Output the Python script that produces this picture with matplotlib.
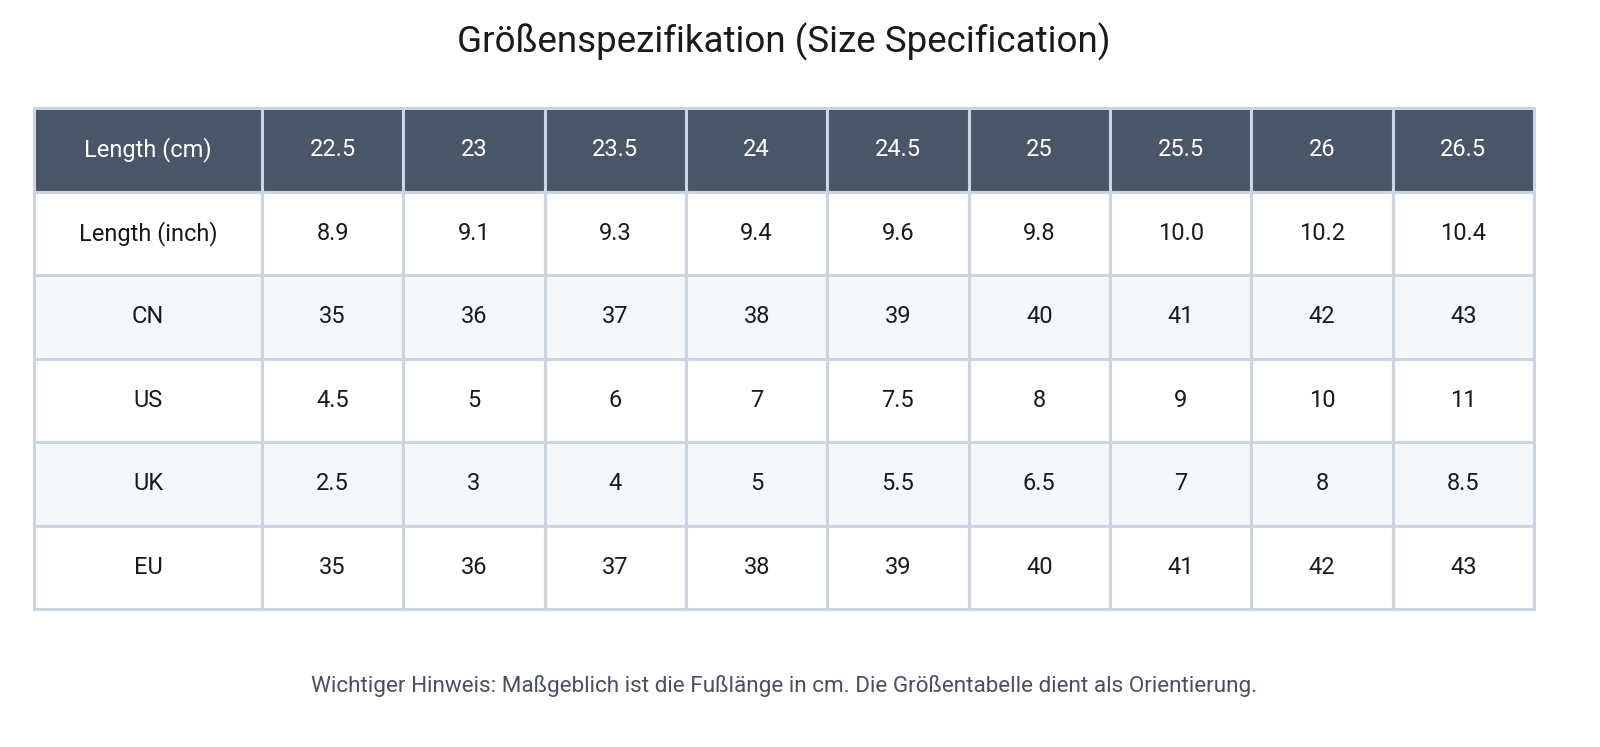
import matplotlib.pyplot as plt
from matplotlib.patches import Rectangle

plt.rcParams['font.family'] = ['Roboto', 'DejaVu Sans']

title = 'Größenspezifikation (Size Specification)'
note = 'Wichtiger Hinweis: Maßgeblich ist die Fußlänge in cm. Die Größentabelle dient als Orientierung.'

header = ['Length (cm)', '22.5', '23', '23.5', '24', '24.5', '25', '25.5', '26', '26.5']
row_labels = ['Length (inch)', 'CN', 'US', 'UK', 'EU']
inch = ['8.9', '9.1', '9.3', '9.4', '9.6', '9.8', '10.0', '10.2', '10.4']
cn = ['35', '36', '37', '38', '39', '40', '41', '42', '43']
us = ['4.5', '5', '6', '7', '7.5', '8', '9', '10', '11']
uk = ['2.5', '3', '4', '5', '5.5', '6.5', '7', '8', '8.5']
eu = ['35', '36', '37', '38', '39', '40', '41', '42', '43']
rows = [inch, cn, us, uk, eu]

W, H = 1600, 747
fig = plt.figure(figsize=(W / 100, H / 100), dpi=100)

# table area in pixels
x0, x1, y0, y1 = 34, 1534, 108, 609
ax = fig.add_axes([x0 / W, 1 - y1 / H, (x1 - x0) / W, (y1 - y0) / H])
first_w = 228 / ((x1 - x0 - 228) / 9)
edges = [0, first_w] + [first_w + i for i in range(1, 10)]
nrows = len(rows) + 1
ax.set_xlim(0, edges[-1])
ax.set_ylim(nrows, 0)
ax.axis('off')

line_c = '#cbd5e0'
head_c = '#4a5568'
alt_c = '#f5f8fb'

for r in range(nrows):
    cells = header if r == 0 else [row_labels[r - 1]] + rows[r - 1]
    if r == 0:
        bg = head_c
        tc = 'white'
    else:
        bg = alt_c if r % 2 == 0 else 'white'
        tc = '#1a1a1a'
    for c, txt in enumerate(cells):
        xl, xr = edges[c], edges[c + 1]
        ax.add_patch(Rectangle((xl, r), xr - xl, 1, facecolor=bg,
                               edgecolor=line_c, linewidth=2.2, clip_on=False))
        ax.text((xl + xr) / 2, r + 0.5, txt, ha='center', va='center',
                fontsize=17, color=tc)

fig.text(0.49, 1 - 42 / H, title, ha='center', va='center', fontsize=26.5, color='#1a1a1a')
fig.text(0.49, 1 - 686 / H, note, ha='center', va='center', fontsize=16.2, color='#4a5060')

fig.savefig('out.png', dpi=100, facecolor='white')
